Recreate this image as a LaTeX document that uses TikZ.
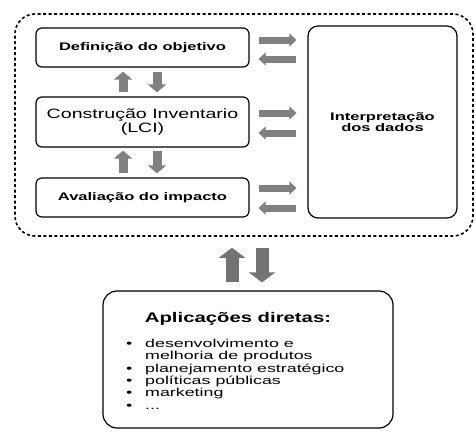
\documentclass[tikz,border=0pt]{standalone}
\usepackage{fontspec}
\setmainfont{Liberation Sans}
\newfontfamily\widefont[FakeStretch=1.5]{Liberation Sans}
\newfontfamily\lcifont[FakeStretch=1.45]{Liberation Sans}
\newfontfamily\listfont[FakeStretch=1.55]{Liberation Sans}
\usetikzlibrary{arrows.meta,positioning,calc}

\begin{document}
\begin{tikzpicture}[x=1pt,y=-1pt,
  box/.style={draw,line width=1.2pt,rounded corners=6pt,inner sep=0pt,align=center,
    minimum width=213pt,font=\widefont\bfseries\fontsize{11}{11.5}\selectfont},
  harrow/.style={line width=7pt,black!50,-{Triangle[length=7pt,width=13pt]}},
  varrow/.style={line width=9pt,black!50,-{Triangle[length=8pt,width=18pt]}},
  bigarrow/.style={line width=13pt,black!55,-{Triangle[length=10pt,width=26pt]}}]
  \useasboundingbox (0,0) rectangle (476,432);
  \node[draw,line width=1.6pt,dash pattern=on 3pt off 2.5pt,rounded corners=20pt,
    minimum width=458pt,minimum height=222pt](frame) at (244,125){};
  \node[box,minimum height=39pt](def) at (142.5,47.5){Definição do objetivo};
  \node[box,minimum height=50pt,font=\lcifont\fontsize{13.5}{11.5}\selectfont](lci) at (142.5,122)
    {Construção Inventario\\(LCI)};
  \node[box,minimum height=39pt](aia) at (142.5,197.5){Avaliação do impacto};
  \node[box,rounded corners=10pt,minimum width=149pt,minimum height=192pt](interp) at (382.5,122)
    {Interpretação\\dos dados};
  \node[box,rounded corners=14pt,minimum width=290pt,minimum height=137pt](apps) at (248,359.5){};
  \node[font=\lcifont\bfseries\fontsize{14}{14}\selectfont](title) at (238,319){Aplicações diretas:};
  \node[anchor=north west,inner sep=0pt,align=left,font=\listfont\fontsize{11.5}{12.3}\selectfont](list) at (126,339)
    {\makebox[19pt][l]{•}desenvolvimento e\\
     \hspace*{19pt}melhoria de produtos\\
     \makebox[19pt][l]{•}planejamento estratégico\\
     \makebox[19pt][l]{•}políticas públicas\\
     \makebox[19pt][l]{•}marketing\\
     \makebox[19pt][l]{•}...};
  % arrows to and from the interpretation
  \draw[harrow] ($(def.east)+(9,-7.5)$) -- ($(def.east -| interp.west)+(-11,-7.5)$);
  \draw[harrow] ($(def.east -| interp.west)+(-11,11.5)$) -- ($(def.east)+(9,11.5)$);
  \draw[harrow] ($(lci.east)+(9,-9)$) -- ($(lci.east -| interp.west)+(-11,-9)$);
  \draw[harrow] ($(lci.east -| interp.west)+(-11,11)$) -- ($(lci.east)+(9,11)$);
  \draw[harrow] ($(aia.east)+(9,-9.5)$) -- ($(aia.east -| interp.west)+(-11,-9.5)$);
  \draw[harrow] ($(aia.east -| interp.west)+(-11,10.5)$) -- ($(aia.east)+(9,10.5)$);
  % arrows between the phases
  \draw[varrow] ($(lci.north)+(-19.5,-4)$) -- ($(def.south)+(-19.5,4)$);
  \draw[varrow] ($(def.south)+(14.5,4)$) -- ($(lci.north)+(14.5,-4)$);
  \draw[varrow] ($(aia.north)+(-19.5,-4)$) -- ($(lci.south)+(-19.5,3)$);
  \draw[varrow] ($(lci.south)+(14.5,3)$) -- ($(aia.north)+(14.5,-4)$);
  % applications
  \draw[bigarrow] ($(apps.north)+(-16,-8)$) -- ($(frame.south)+(-12,11)$);
  \draw[bigarrow] ($(frame.south)+(18,11)$) -- ($(apps.north)+(14,-8)$);
\end{tikzpicture}
\end{document}
